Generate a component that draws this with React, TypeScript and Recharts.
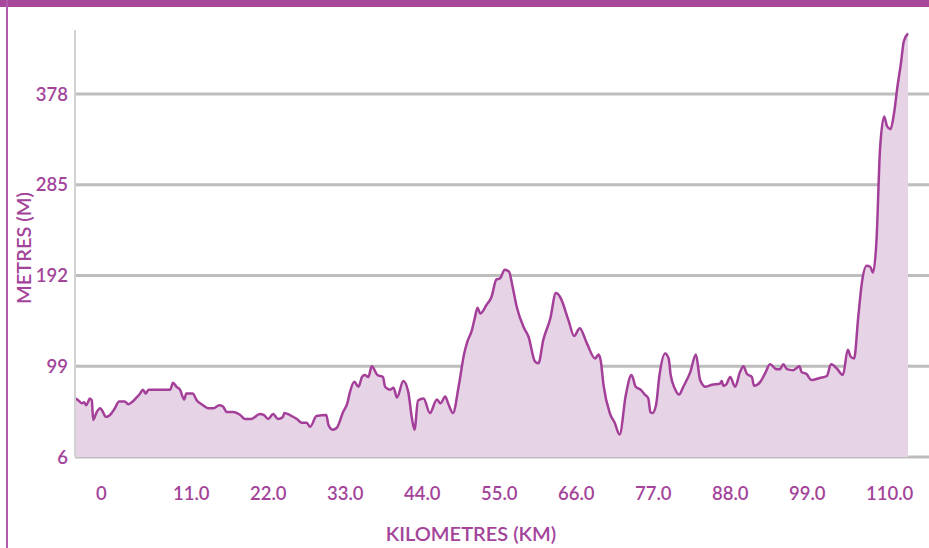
import { AreaChart, Area, XAxis, YAxis, CartesianGrid } from "recharts";

// distance along the route (km) and elevation (m)
const distanceKm = [
  -3.0, -2.5, -2.0, -1.7, -1.4, -1.1, -0.9, -0.6, -0.4, 0.1,
  0.6, 1.0, 1.4, 2.0, 2.7, 3.3, 4.1, 4.6, 5.1, 5.8,
  6.3, 6.7, 7.1, 7.5, 10.6, 11.0, 11.5, 12.0, 12.6, 12.9,
  13.8, 14.4, 15.3, 16.0, 16.8, 17.6, 18.1, 18.7, 19.6, 20.6,
  21.3, 22.2, 23.4, 24.0, 24.6, 25.3, 26.0, 26.7, 26.9, 27.7,
  28.7, 29.4, 30.1, 30.6, 31.5, 32.9, 33.2, 33.8, 34.4, 35.3,
  35.9, 36.3, 36.9, 37.5, 38.0, 38.4, 38.9, 39.4, 40.2, 41.0,
  41.3, 42.0, 42.5, 43.0, 43.9, 44.6, 45.1, 45.5, 46.0, 46.8,
  47.7, 48.7, 49.2, 49.9, 50.3, 51.0, 51.8, 52.6, 53.0, 53.7,
  54.1, 54.5, 54.9, 55.8, 56.5, 57.2, 57.7, 58.4, 59.0, 59.5,
  60.1, 61.1, 61.8, 62.7, 63.2, 63.9, 64.9, 65.7, 66.3, 67.5,
  68.3, 69.1, 70.1, 71.3, 71.8, 72.1, 72.5, 73.4, 74.1, 74.8,
  75.7, 76.5, 77.1, 77.8, 78.4, 78.9, 79.2, 79.5, 80.0, 80.5,
  81.3, 81.8, 82.1, 82.7, 83.3, 83.9, 84.9, 85.7, 86.3, 87.1,
  88.0, 89.1, 89.4, 89.6, 90.0, 90.6, 91.3, 92.0, 92.5, 93.0,
  93.7, 94.0, 94.9, 95.6, 96.3, 97.2, 97.7, 98.2, 98.7, 99.6,
  100.5, 100.8, 101.5, 102.2, 103.4, 104.4, 105.0, 105.8, 106.7, 107.4,
  107.8, 108.3, 108.9, 109.4, 110.1, 110.6, 111.0, 111.5, 112.0, 112.6,
  113.0, 113.5, 114.0, 114.5, 115.0, 115.4, 116.0,
];

const elevationM = [
  66, 64, 61, 62, 59, 63, 66, 64, 44, 52,
  56, 52, 47, 49, 56, 63, 63, 60, 62, 67,
  71, 75, 71, 75, 75, 82, 78, 75, 65, 71,
  71, 64, 59, 56, 56, 59, 58, 52, 52, 49,
  45, 45, 50, 49, 45, 50, 45, 47, 51, 49,
  45, 41, 41, 37, 48, 49, 39, 34, 36, 52,
  61, 73, 83, 78, 88, 90, 88, 99, 90, 88,
  78, 75, 77, 67, 84, 73, 47, 34, 64, 66,
  51, 65, 61, 68, 61, 51, 78, 112, 123, 136,
  148, 159, 153, 162, 170, 188, 189, 198, 196, 181,
  160, 139, 129, 104, 102, 126, 148, 174, 170, 146,
  130, 138, 123, 107, 111, 105, 80, 51, 41, 29,
  70, 90, 78, 75, 70, 66, 52, 51, 59, 90,
  112, 107, 90, 76, 70, 78, 93, 111, 85, 78,
  80, 81, 84, 79, 80, 88, 78, 93, 99, 91,
  88, 79, 83, 92, 101, 96, 96, 101, 96, 95,
  99, 93, 91, 85, 87, 89, 101, 97, 90, 116,
  109, 107, 150, 184, 202, 201, 195, 228, 321, 355,
  345, 342, 358, 386, 410, 432, 440,
];

const kmTicks = [0, 11, 22, 33, 44, 55, 66, 77, 88, 99, 110];
const metreTicks = [6, 99, 192, 285, 378];

const data = distanceKm.map((km, i) => ({ km, m: elevationM[i] }));

const purple = "#a3449a";
const font = "Lato, 'Open Sans', sans-serif";

const KmTick = (props: any) => {
  const { x, y, payload } = props;
  const label = payload.value === 0 ? "0" : payload.value.toFixed(1);
  return (
    <text x={x} y={y + 43} textAnchor="start" fill={purple} fontSize={18.5} fontWeight={600} fontFamily={font}>
      {label}
    </text>
  );
};

const KmLabel = (props: any) => {
  const { viewBox } = props;
  return (
    <text x={viewBox.x + 396} y={viewBox.y + 84} textAnchor="middle" fill={purple} fontSize={20} fontWeight={600} fontFamily={font}>
      KILOMETRES (KM)
    </text>
  );
};

const MetreLabel = (props: any) => {
  const { viewBox } = props;
  const cx = viewBox.x + 23;
  const cy = viewBox.y + 218;
  return (
    <text
      x={cx}
      y={cy}
      transform={`rotate(-90 ${cx} ${cy})`}
      textAnchor="middle"
      dominantBaseline="central"
      fill={purple}
      fontSize={20}
      fontWeight={600}
      fontFamily={font}
    >
      METRES (M)
    </text>
  );
};

export default function App() {
  return (
    <>
      <style>{`body { margin: 0; }`}</style>
      <div style={{ position: "relative", width: 929, height: 548, background: "#fff", overflow: "hidden" }}>
        <AreaChart width={929} height={548} data={data} margin={{ top: 30, right: 0, bottom: 0, left: 0 }}>
          <CartesianGrid vertical={false} horizontalValues={metreTicks} stroke="#bdbdbd" strokeWidth={3} />
          <XAxis
            dataKey="km"
            type="number"
            domain={[-3, 119]}
            ticks={kmTicks}
            height={91}
            axisLine={false}
            tickLine={false}
            tickSize={0}
            tickMargin={0}
            tick={<KmTick />}
            label={<KmLabel />}
          />
          <YAxis
            width={75}
            domain={[6, 443.6]}
            ticks={metreTicks}
            axisLine={{ stroke: "#d2d2d2", strokeWidth: 2 }}
            tickLine={false}
            tickSize={0}
            tickMargin={7}
            tick={{ fill: purple, fontSize: 18.5, fontWeight: 600, fontFamily: font }}
            label={<MetreLabel />}
          />
          <Area
            type="monotone"
            dataKey="m"
            stroke="#a43f99"
            strokeWidth={2.5}
            fill="#e6d4e6"
            fillOpacity={1}
            dot={false}
            activeDot={false}
            isAnimationActive={false}
          />
        </AreaChart>
        <div style={{ position: "absolute", zIndex: 5, left: 0, top: 0, width: 929, height: 7, background: "#a8489b" }} />
        <div style={{ position: "absolute", zIndex: 5, left: 6, top: 0, width: 1.5, height: 548, background: "#b45aae" }} />
      </div>
    </>
  );
}
